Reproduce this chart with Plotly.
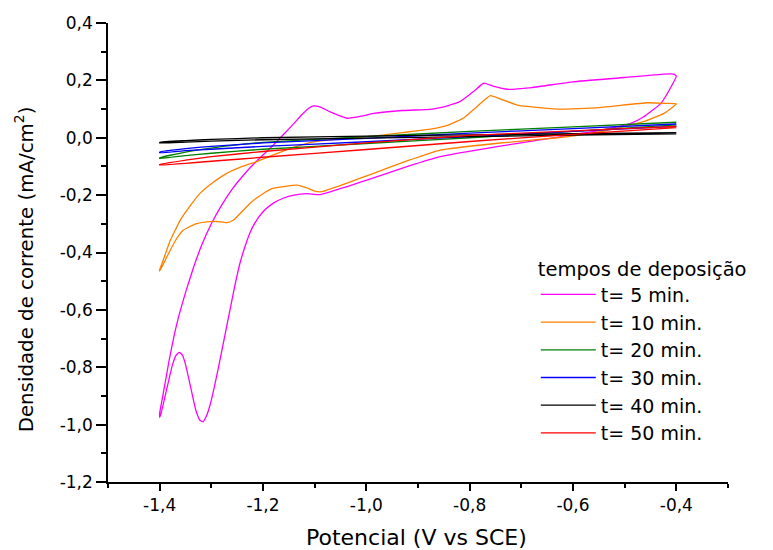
import plotly.graph_objects as go

# ---- data ----
# t = 5 min (magenta): cathodic sweep (-0.4 -> -1.4) then anodic sweep (-1.4 -> -0.4)
x5 = [-0.400, -0.410, -0.430, -0.463, -0.488, -0.550, -0.617, -0.747, -0.857, -0.920, -0.986,
      -1.037, -1.089, -1.115, -1.140, -1.160, -1.180, -1.200, -1.215, -1.225, -1.235, -1.245,
      -1.255, -1.265, -1.275, -1.285, -1.295, -1.303, -1.310, -1.316, -1.322, -1.330, -1.340,
      -1.350, -1.356, -1.362, -1.368, -1.375, -1.383, -1.392, -1.398, -1.400,
      -1.400, -1.399, -1.395, -1.389, -1.381, -1.372, -1.362, -1.350, -1.335, -1.320, -1.300,
      -1.280, -1.260, -1.240, -1.220, -1.200, -1.180, -1.160, -1.140, -1.125, -1.112, -1.102,
      -1.090, -1.070, -1.037, -1.010, -0.986, -0.930, -0.876, -0.857, -0.820, -0.790, -0.773,
      -0.755, -0.727, -0.680, -0.600, -0.500, -0.424, -0.405, -0.400]
y5 = [0.215, 0.178, 0.120, 0.073, 0.050, 0.025, 0.006, -0.031, -0.066, -0.100, -0.140,
      -0.170, -0.198, -0.195, -0.200, -0.210, -0.228, -0.258, -0.295, -0.330, -0.380, -0.440,
      -0.520, -0.610, -0.700, -0.790, -0.875, -0.935, -0.972, -0.990, -0.985, -0.950, -0.870,
      -0.790, -0.758, -0.748, -0.758, -0.790, -0.850, -0.920, -0.965, -0.975,
      -0.960, -0.949, -0.910, -0.850, -0.770, -0.690, -0.615, -0.540, -0.455, -0.380, -0.300,
      -0.235, -0.180, -0.135, -0.095, -0.060, -0.025, 0.012, 0.050, 0.080, 0.102, 0.111,
      0.108, 0.090, 0.068, 0.075, 0.085, 0.095, 0.099, 0.105, 0.125, 0.165, 0.190,
      0.180, 0.169, 0.175, 0.195, 0.210, 0.222, 0.222, 0.215]

# t = 10 min (orange)
x10 = [-0.400, -0.424, -0.463, -0.500, -0.550, -0.630, -0.750, -0.857, -0.920, -0.986, -1.040,
       -1.086, -1.100, -1.115, -1.134, -1.160, -1.180, -1.200, -1.225, -1.257, -1.270, -1.290,
       -1.309, -1.330, -1.354, -1.370, -1.386, -1.400,
       -1.400, -1.393, -1.380, -1.360, -1.340, -1.322, -1.300, -1.270, -1.240, -1.212, -1.180,
       -1.147, -1.102, -1.040, -0.986, -0.930, -0.876, -0.840, -0.811, -0.785, -0.760, -0.740,
       -0.708, -0.630, -0.550, -0.456, -0.420, -0.400]
y10 = [0.118, 0.085, 0.056, 0.040, 0.020, 0.000, -0.020, -0.043, -0.080, -0.124, -0.160,
       -0.188, -0.186, -0.175, -0.165, -0.170, -0.176, -0.195, -0.228, -0.287, -0.296, -0.292,
       -0.293, -0.300, -0.322, -0.360, -0.415, -0.465,
       -0.460, -0.426, -0.360, -0.287, -0.235, -0.194, -0.160, -0.124, -0.100, -0.083, -0.060,
       -0.037, -0.014, -0.002, 0.006, 0.018, 0.030, 0.045, 0.070, 0.110, 0.147, 0.135,
       0.114, 0.100, 0.105, 0.122, 0.120, 0.118]

# flat loops: cathodic branch (-0.4 -> -1.4) then anodic branch (-1.4 -> -0.4)
x_flat = [-0.4, -0.6, -0.8, -1.0, -1.2, -1.3, -1.35, -1.4,
          -1.4, -1.35, -1.3, -1.2, -1.0, -0.8, -0.6, -0.4]
y20 = [0.045, 0.022, 0.000, -0.020, -0.040, -0.054, -0.062, -0.072,
       -0.070, -0.050, -0.036, -0.016, 0.004, 0.022, 0.038, 0.054]
y30 = [0.040, 0.022, 0.004, -0.014, -0.030, -0.040, -0.045, -0.052,
       -0.050, -0.038, -0.030, -0.018, -0.002, 0.016, 0.032, 0.048]
y40 = [0.014, 0.009, 0.004, -0.001, -0.007, -0.012, -0.015, -0.018,
       -0.016, -0.010, -0.006, 0.000, 0.006, 0.010, 0.014, 0.018]
y50 = [0.035, 0.012, -0.013, -0.041, -0.068, -0.082, -0.089, -0.095,
       -0.093, -0.078, -0.066, -0.048, -0.018, 0.008, 0.024, 0.040]

series_names = ["t= 5 min.", "t= 10 min.", "t= 20 min.", "t= 30 min.", "t= 40 min.", "t= 50 min."]
series_colors = ["#FF00FF", "#FF8000", "#008000", "#0000FF", "#000000", "#FF0000"]
series_x = [x5, x10, x_flat, x_flat, x_flat, x_flat]
series_y = [y5, y10, y20, y30, y40, y50]

# tick labels (comma decimal, plain hyphen as in the reference)
x_tickvals = [-1.4, -1.2, -1.0, -0.8, -0.6, -0.4]
x_ticktext = ["-1,4", "-1,2", "-1,0", "-0,8", "-0,6", "-0,4"]
y_tickvals = [-1.2, -1.0, -0.8, -0.6, -0.4, -0.2, 0.0, 0.2, 0.4]
y_ticktext = ["-1,2", "-1,0", "-0,8", "-0,6", "-0,4", "-0,2", "0,0", "0,2", "0,4"]

x_title = "Potencial (V vs SCE)"
y_title = "Densidade de corrente (mA/cm<sup>2</sup>)"
legend_title = "tempos de deposição"

FONT = "'DejaVu Sans', sans-serif"

fig = go.Figure()
for name, col, xs, ys in zip(series_names, series_colors, series_x, series_y):
    fig.add_trace(go.Scatter(x=xs, y=ys, mode="lines", name=name,
                             line=dict(color=col, width=1.3, shape="spline", smoothing=0.4)))

fig.update_layout(
    width=773, height=550,
    margin=dict(l=100, r=53, t=15, b=76, autoexpand=False),
    paper_bgcolor="white", plot_bgcolor="white",
    font=dict(family=FONT, color="black", size=17),
    showlegend=True,
    legend=dict(
        title=dict(text=legend_title, font=dict(size=19.5)),
        font=dict(size=19),
        x=0.690, y=0.505, xanchor="left", yanchor="top",
        itemwidth=55,
        bgcolor="rgba(0,0,0,0)", tracegroupgap=0,
    ),
    xaxis=dict(
        range=[-1.5, -0.3], tickmode="array", tickvals=x_tickvals, ticktext=x_ticktext,
        showline=True, linecolor="black", linewidth=1.6,
        ticks="outside", ticklen=7, tickwidth=1.6, tickcolor="black",
        minor=dict(tickmode="linear", ticks="outside", ticklen=4, tickwidth=1.6,
                   tickcolor="black", dtick=0.1, tick0=-1.5),
        showgrid=False, zeroline=False, automargin=False,
        tickfont=dict(size=17),
    ),
    yaxis=dict(
        range=[-1.2, 0.4], tickmode="array", tickvals=y_tickvals, ticktext=y_ticktext,
        showline=True, linecolor="black", linewidth=1.6,
        ticks="outside", ticklen=10, tickwidth=1.6, tickcolor="black",
        minor=dict(tickmode="linear", ticks="outside", ticklen=5, tickwidth=1.6,
                   tickcolor="black", dtick=0.1, tick0=0),
        showgrid=False, zeroline=False, automargin=False,
        tickfont=dict(size=17),
    ),
    annotations=[
        dict(text=x_title, xref="paper", yref="paper", x=0.498, y=-0.122,
             xanchor="center", yanchor="middle", showarrow=False, font=dict(size=22)),
        dict(text=y_title, xref="paper", yref="paper", x=-0.135, y=0.464, textangle=-90,
             xanchor="center", yanchor="middle", showarrow=False, font=dict(size=19.8)),
    ],
)

fig.write_html("out.html")
